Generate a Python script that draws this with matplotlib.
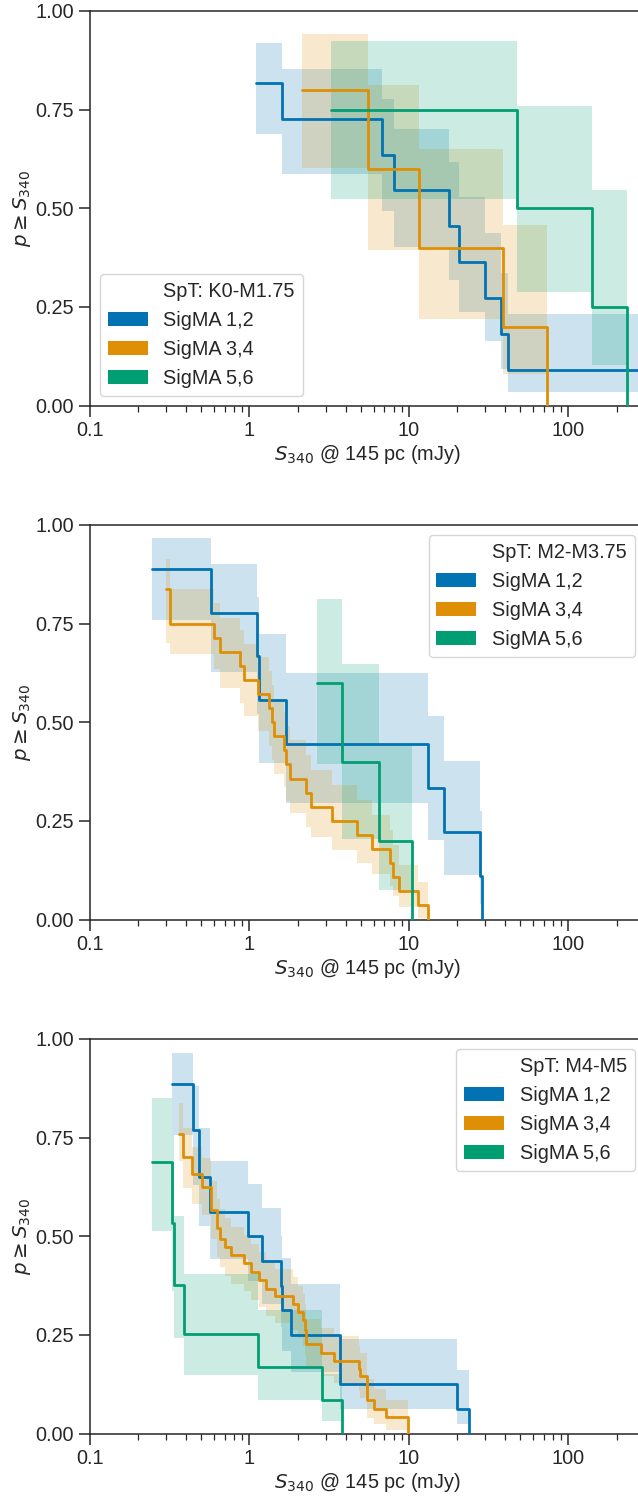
import matplotlib
matplotlib.use("Agg")
import matplotlib.pyplot as plt
from matplotlib.patches import Patch
import seaborn as sns

# --- data (fluxes in mJy, survival fraction) ---
group_names = ["SigMA 1,2", "SigMA 3,4", "SigMA 5,6"]
spt_names = ["SpT: K0-M1.75", "SpT: M2-M3.75", "SpT: M4-M5"]

# panel 1 : K0-M1.75
blue1_x = [1.10, 1.60, 6.75, 8.1, 17.8, 20.7, 29.8, 37.5, 41.5]
blue1_s = [0.818, 0.727, 0.636, 0.545, 0.455, 0.364, 0.273, 0.182, 0.091]
blue1_hi = [0.918, 0.852, 0.777, 0.700, 0.617, 0.529, 0.437, 0.336, 0.232]
blue1_lo = [0.689, 0.588, 0.493, 0.402, 0.319, 0.237, 0.163, 0.093, 0.035]

orange1_x = [2.14, 5.55, 11.5, 38.7, 73.5]
orange1_s = [0.8, 0.6, 0.4, 0.2, 0.0]
orange1_hi = [0.942, 0.812, 0.649, 0.457]
orange1_lo = [0.602, 0.395, 0.220, 0.080]

green1_x = [3.22, 47.3, 139.6, 231.6]
green1_s = [0.75, 0.5, 0.25, 0.0]
green1_hi = [0.924, 0.760, 0.546]
green1_lo = [0.523, 0.287, 0.103]

# panel 2 : M2-M3.75
blue2_x = [0.245, 0.57, 1.11, 1.155, 1.70, 13.15, 16.65, 27.8, 28.8]
blue2_s = [0.889, 0.778, 0.667, 0.556, 0.444, 0.333, 0.222, 0.111, 0.0]
blue2_hi = [0.968, 0.900, 0.817, 0.724, 0.624, 0.516, 0.401, 0.275]
blue2_lo = [0.760, 0.628, 0.520, 0.397, 0.295, 0.201, 0.114, 0.040]

orange2_x = [0.300, 0.316, 0.60, 0.65, 0.877, 0.93, 1.13, 1.32, 1.38, 1.43,
             1.64, 1.70, 1.80, 2.26, 2.42, 3.28, 4.70, 5.83, 7.55, 7.95,
             8.7, 11.4, 13.25]
orange2_s = [0.839, 0.750, 0.714, 0.679, 0.643, 0.607, 0.571, 0.536, 0.500, 0.464,
             0.429, 0.393, 0.357, 0.321, 0.286, 0.250, 0.214, 0.179, 0.143, 0.107,
             0.071, 0.036, 0.0]
orange2_hi = [0.915, 0.838, 0.802, 0.765, 0.733, 0.699, 0.665, 0.630, 0.595, 0.560,
              0.525, 0.490, 0.454, 0.417, 0.380, 0.342, 0.304, 0.264, 0.227, 0.190,
              0.138, 0.096]
orange2_lo = [0.700, 0.672, 0.635, 0.588, 0.550, 0.515, 0.478, 0.440, 0.405, 0.370,
              0.335, 0.300, 0.270, 0.235, 0.208, 0.176, 0.142, 0.115, 0.085, 0.060,
              0.032, 0.004]

green2_x = [2.66, 3.79, 6.52, 10.4]
green2_s = [0.6, 0.4, 0.2, 0.0]
green2_hi = [0.812, 0.648, 0.445]
green2_lo = [0.393, 0.205, 0.075]

# panel 3 : M4-M5
blue3_x = [0.328, 0.441, 0.482, 0.563, 0.973, 1.20, 1.58, 1.61, 1.83, 3.68, 19.9, 23.7]
blue3_s = [0.886, 0.770, 0.651, 0.5625, 0.5, 0.4375, 0.375, 0.3125, 0.25, 0.125, 0.0625, 0.0]
blue3_hi = [0.964, 0.881, 0.775, 0.690, 0.632, 0.572, 0.500, 0.446, 0.380, 0.239, 0.162]
blue3_lo = [0.757, 0.630, 0.525, 0.442, 0.386, 0.329, 0.270, 0.210, 0.155, 0.062, 0.025]

orange3_x = [0.361, 0.381, 0.437, 0.501, 0.571, 0.623, 0.653, 0.702, 0.764, 0.925,
             1.02, 1.15, 1.27, 1.445, 1.88, 2.02, 2.15, 2.23, 2.26, 2.79,
             3.38, 4.87, 4.93, 5.48, 6.07, 7.18, 9.9]
orange3_s = [0.760, 0.700, 0.657, 0.626, 0.566, 0.520, 0.494, 0.473, 0.452, 0.431,
             0.410, 0.389, 0.367, 0.348, 0.329, 0.308, 0.287, 0.262, 0.226, 0.204,
             0.185, 0.164, 0.145, 0.084, 0.0625, 0.042, 0.0]
orange3_hi = [0.837, 0.774, 0.727, 0.698, 0.640, 0.595, 0.568, 0.546, 0.524, 0.502,
              0.481, 0.459, 0.437, 0.417, 0.397, 0.375, 0.353, 0.327, 0.290, 0.267,
              0.246, 0.224, 0.203, 0.137, 0.112, 0.085]
orange3_lo = [0.690, 0.622, 0.583, 0.553, 0.492, 0.447, 0.421, 0.400, 0.380, 0.360,
              0.339, 0.320, 0.299, 0.281, 0.263, 0.243, 0.223, 0.200, 0.166, 0.146,
              0.128, 0.108, 0.090, 0.040, 0.024, 0.008]

green3_x = [0.246, 0.328, 0.335, 0.387, 1.136, 2.86, 3.82]
green3_s = [0.689, 0.534, 0.376, 0.251, 0.169, 0.084, 0.0]
green3_hi = [0.850, 0.757, 0.551, 0.404, 0.312, 0.152]
green3_lo = [0.513, 0.360, 0.242, 0.149, 0.084, 0.031]

panels = [
    [(blue1_x, blue1_s, blue1_hi, blue1_lo),
     (orange1_x, orange1_s, orange1_hi, orange1_lo),
     (green1_x, green1_s, green1_hi, green1_lo)],
    [(blue2_x, blue2_s, blue2_hi, blue2_lo),
     (orange2_x, orange2_s, orange2_hi, orange2_lo),
     (green2_x, green2_s, green2_hi, green2_lo)],
    [(blue3_x, blue3_s, blue3_hi, blue3_lo),
     (orange3_x, orange3_s, orange3_hi, orange3_lo),
     (green3_x, green3_s, green3_hi, green3_lo)],
]
legend_locs = ["lower left", "upper right", "upper right"]

x_min, x_max = 0.1, 300.0
x_ticks = [0.1, 1, 10, 100]
x_ticklabels = ["0.1", "1", "10", "100"]
y_ticks = [0.0, 0.25, 0.5, 0.75, 1.0]

# --- style ---
sns.set_theme(style="ticks", palette="colorblind")
plt.rcParams["font.family"] = ["Liberation Sans", "DejaVu Sans"]
plt.rcParams["mathtext.fontset"] = "dejavusans"
fs = 14.3
plt.rcParams.update({
    "font.size": fs, "axes.labelsize": fs, "xtick.labelsize": fs,
    "ytick.labelsize": fs, "legend.fontsize": fs,
    "xtick.major.size": 8, "ytick.major.size": 8,
    "xtick.minor.size": 4.5, "ytick.minor.size": 4.5,
    "xtick.major.width": 1.1, "ytick.major.width": 1.1,
    "xtick.minor.width": 0.9, "axes.linewidth": 1.1,
})
colors = sns.color_palette("colorblind")[:3]

W, H = 638, 1496
fig = plt.figure(figsize=(W / 100, H / 100), dpi=100)
panel_tops = [11, 525, 1039]
panel_h = 394.5
ax_w = 554.6

for i, series in enumerate(panels):
    top = panel_tops[i]
    ax = fig.add_axes([90 / W, 1 - (top + panel_h) / H, ax_w / W, panel_h / H])
    for (xs, ss, hi, lo), col in zip(series, colors):
        xe = list(xs)
        ye = list(ss)
        if ye[-1] > 0:
            xe.append(x_max)
            ye.append(ye[-1])
        bx = xe[:len(hi) + 1]
        ax.fill_between(bx, hi + [hi[-1]], lo + [lo[-1]], step="post",
                        color=col, alpha=0.2, lw=0, zorder=1)
        ax.plot(xe, ye, drawstyle="steps-post", color=col, lw=2.0, zorder=3)

    ax.set_xscale("log")
    ax.set_xlim(x_min, x_max)
    ax.set_ylim(0, 1)
    ax.set_xticks(x_ticks)
    ax.set_xticklabels(x_ticklabels)
    ax.set_yticks(y_ticks)
    ax.set_yticklabels(["%.2f" % v for v in y_ticks])
    ax.set_xlabel("$S_{340}$ @ 145 pc (mJy)", labelpad=2)
    ax.set_ylabel(r"$p \geq S_{340}$", labelpad=2)
    ax.spines["right"].set_visible(False)

    handles = [Patch(facecolor="none", edgecolor="none")]
    handles += [Patch(facecolor=c, edgecolor="none") for c in colors]
    labels = [spt_names[i]] + group_names
    ax.legend(handles, labels, loc=legend_locs[i])

fig.savefig("out.png", dpi=100)
